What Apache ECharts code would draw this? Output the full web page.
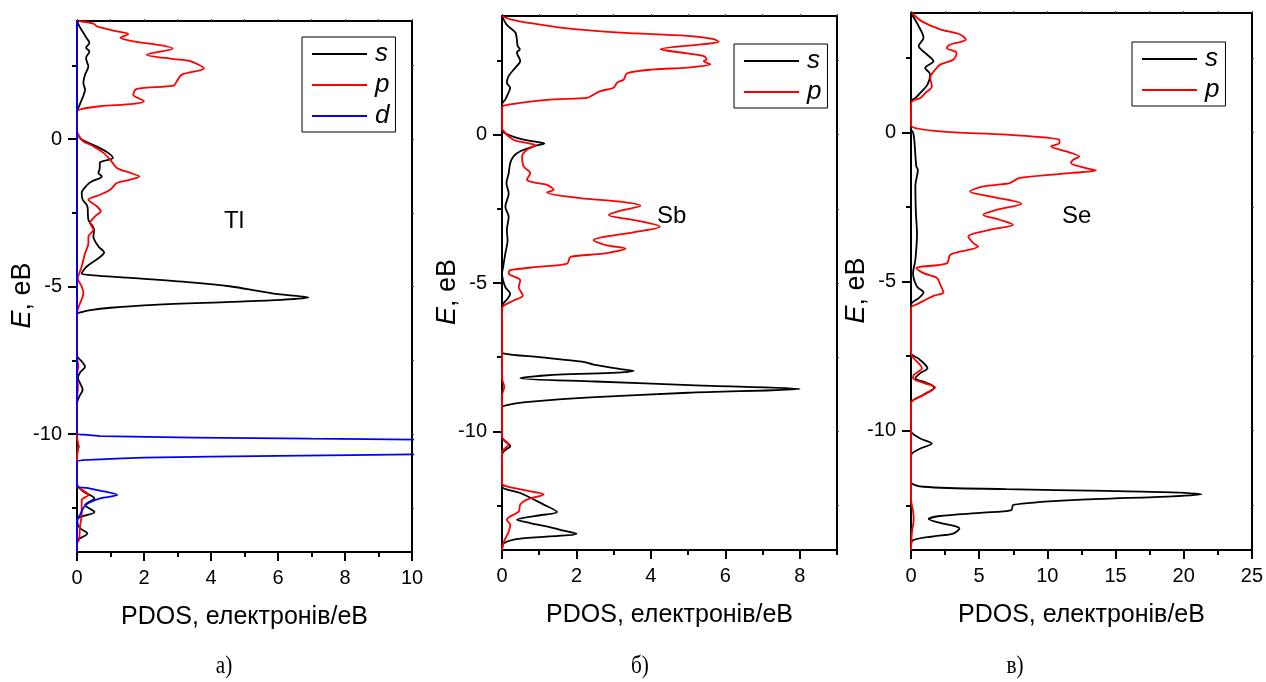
<!DOCTYPE html>
<html>
<head>
<meta charset="utf-8">
<script src="https://cdn.jsdelivr.net/npm/echarts@6/dist/echarts.min.js"></script>
<style>
  html, body { margin: 0; padding: 0; background: #fff; }
  #chart { width: 1266px; height: 682px; }
</style>
</head>
<body>
<div id="chart"></div>
<script>
// Partial densities of states, pairs of [E (eV), PDOS (electrons/eV)]

// Tl
const tlS = [
  [4.0,0],[3.8,0.08],[3.6,0.19],[3.4,0.3],[3.26,0.37],[3.09,0.27],[2.97,0.37],[2.75,0.27],[2.6,0.3],[2.47,0.34],
  [2.18,0.24],[1.9,0.19],[1.67,0.24],[1.5,0.2],[1.33,0.14],[1.05,0.04],[0.94,0],
  [0.3,0],[0.2,0.01],[0,0.12],[-0.25,0.58],[-0.47,0.93],[-0.64,1.07],[-0.72,0.88],[-0.81,0.68],[-0.98,0.68],
  [-1.15,0.64],[-1.27,0.74],[-1.44,0.44],[-1.55,0.31],[-1.83,0.14],[-2.06,0.17],[-2.28,0.31],[-2.74,0.34],
  [-3.08,0.51],[-3.31,0.49],[-3.64,0.64],[-3.85,0.81],[-4.04,0.64],[-4.32,0.29],[-4.49,0.17],[-4.57,0.14],
  [-4.62,0.5],[-4.7,1.5],[-4.86,3.4],[-5.0,4.6],[-5.15,5.4],[-5.26,6.0],[-5.37,6.91],[-5.45,6.1],[-5.52,4.6],
  [-5.62,2.3],[-5.72,1.0],[-5.8,0.4],[-5.87,0.14],[-5.94,0],
  [-7.3,0],[-7.4,0.02],[-7.55,0.15],[-7.72,0.24],[-7.9,0.1],[-8.1,0.03],[-8.3,0.1],[-8.5,0.17],[-8.7,0.08],[-8.96,0],
  [-10.2,0],[-10.3,0.02],[-10.43,0.05],[-10.55,0.02],[-10.7,0],
  [-11.6,0],[-11.73,0.01],[-11.95,0.19],[-12.18,0.52],[-12.41,0.24],[-12.64,0.52],[-12.85,0.04],[-13.0,0.01],
  [-13.2,0.1],[-13.37,0.31],[-13.5,0.15],[-13.6,0.01],[-14,0]
];
const tlP = [
  [4.0,0.05],[3.91,0.49],[3.82,0.59],[3.65,1.19],[3.56,1.53],[3.43,1.3],[3.31,1.68],[3.2,2.38],[3.07,2.86],
  [2.86,2.08],[2.71,2.88],[2.64,3.38],[2.39,3.79],[2.18,3.13],[1.96,2.98],[1.81,2.88],[1.7,1.78],[1.5,1.68],
  [1.28,2.0],[1.19,1.68],[1.11,0.69],[1.0,0.09],[0.9,0],
  [0.25,0],[0.2,0.01],[0,0.12],[-0.08,0.19],[-0.25,0.49],[-0.47,0.79],[-0.7,0.99],[-0.98,1.19],[-1.15,1.59],
  [-1.27,1.86],[-1.38,1.59],[-1.49,1.19],[-1.72,0.99],[-1.89,0.69],[-2.06,0.34],[-2.28,0.59],[-2.45,0.71],
  [-2.62,0.54],[-2.85,0.39],[-3.08,0.49],[-3.31,0.34],[-3.53,0.34],[-3.87,0.24],[-4.32,0.14],[-4.55,0.07],
  [-4.72,0.02],[-5.0,0.14],[-5.23,0.19],[-5.57,0.09],[-5.9,0],
  [-7.4,0],[-7.7,0.04],[-8.0,0],[-8.4,0.03],[-8.8,0],
  [-10.1,0],[-10.4,0.04],[-10.8,0],
  [-11.7,0],[-11.79,0.02],[-12.07,0.34],[-12.24,0.14],[-12.7,0.14],[-13.15,0.09],[-13.6,0.06],[-13.7,0],[-14,0]
];
const tlD = [
  [4.0,0],[-9.98,0],[-10.03,0.3],[-10.07,0.7],[-10.12,3.5],[-10.16,7],[-10.19,10.3],[-10.25,16],[-10.45,30],
  [-10.65,16],[-10.69,10.3],[-10.74,6],[-10.8,2],[-10.86,0.7],[-10.94,0],
  [-11.75,0],[-11.83,0.3],[-11.92,0.69],[-12.07,1.2],[-12.18,0.69],[-12.34,0.34],[-12.51,0.19],[-12.74,0.09],
  [-12.92,0],[-14,0]
];

// Sb
const sbS = [
  [4.0,0],[3.7,0.13],[3.44,0.36],[3.21,0.4],[2.99,0.42],[2.88,0.48],[2.77,0.4],[2.48,0.49],[2.26,0.36],
  [1.98,0.18],[1.75,0.13],[1.58,0.22],[1.35,0.15],[1.19,0.09],[1.02,0],
  [0.2,0],[0.11,0.01],[-0.11,0.4],[-0.23,0.85],[-0.3,1.14],[-0.39,0.85],[-0.56,0.49],[-0.73,0.31],[-0.96,0.22],
  [-1.3,0.18],[-1.64,0.12],[-1.98,0.18],[-2.43,0.09],[-2.77,0.18],[-3.22,0.13],[-3.56,0.15],[-4.0,0.09],
  [-4.46,0.03],[-4.68,0],[-5.14,0.09],[-5.36,0.22],[-5.53,0.15],[-5.7,0.03],[-5.81,0],
  [-7.25,0],[-7.37,0.03],[-7.5,1.0],[-7.65,2.15],[-7.75,2.46],[-7.9,3.18],[-7.96,3.54],[-8.02,3.1],[-8.09,1.5],
  [-8.21,0.49],[-8.32,2.5],[-8.45,5.2],[-8.57,8.0],[-8.7,5.0],[-8.85,2.5],[-9.0,0.8],[-9.1,0.2],[-9.2,0],
  [-10.2,0],[-10.35,0.1],[-10.5,0.22],[-10.67,0.05],[-10.8,0],
  [-11.75,0],[-11.91,0.03],[-12.08,0.49],[-12.47,1.12],[-12.72,1.48],[-12.85,0.9],[-12.98,0.4],[-13.09,0.76],
  [-13.26,1.39],[-13.35,1.66],[-13.45,2.0],[-13.62,0.49],[-13.77,0.05],[-14,0]
];
const sbP = [
  [4.0,0],[3.89,0.22],[3.76,0.76],[3.61,1.57],[3.44,3.18],[3.33,4.97],[3.22,5.69],[3.13,5.82],[3.05,5.42],
  [2.88,4.26],[2.74,4.97],[2.65,5.42],[2.54,5.5],[2.48,5.42],[2.37,5.6],[2.26,4.97],[2.2,4.08],[2.07,3.36],
  [1.86,3.27],[1.75,3.09],[1.58,3.0],[1.47,2.64],[1.35,2.46],[1.24,2.28],[1.19,1.39],[1.07,0.49],[0.98,0.05],[0.9,0],
  [0.25,0],[0.17,0.01],[-0.17,0.31],[-0.28,0.67],[-0.36,0.9],[-0.51,0.67],[-0.73,0.54],[-1.07,0.58],[-1.3,0.76],
  [-1.52,0.67],[-1.61,0.85],[-1.69,1.21],[-1.86,1.39],[-1.95,1.21],[-2.14,2.1],[-2.26,3.18],[-2.4,3.72],
  [-2.56,3.18],[-2.71,2.87],[-2.9,3.63],[-3.1,4.24],[-3.27,3.63],[-3.56,2.46],[-3.73,2.82],[-3.84,3.32],
  [-4.01,2.73],[-4.12,1.84],[-4.35,1.75],[-4.46,0.94],[-4.57,0.22],[-4.68,0.18],[-4.91,0.49],[-5.14,0.45],
  [-5.42,0.56],[-5.59,0.31],[-5.76,0.05],[-5.87,0],
  [-8.2,0],[-8.5,0.06],[-8.8,0],
  [-10.2,0],[-10.44,0.18],[-10.7,0],
  [-11.7,0],[-11.79,0.01],[-11.96,0.49],[-12.13,1.12],[-12.3,0.67],[-12.47,0.49],[-12.7,0.45],[-12.98,0.13],
  [-13.15,0.22],[-13.38,0.18],[-13.72,0.05],[-14,0]
];

// Se
const seS = [
  [4.0,0],[3.56,0.56],[3.17,0.92],[2.89,0.56],[2.66,1.04],[2.38,1.65],[2.16,1.04],[1.94,1.41],[1.6,1.21],
  [1.38,0.8],[1.15,0.32],[1.04,0],
  [0.1,0],[0,0.15],[-0.25,0.24],[-1.14,0.39],[-1.25,0.5],[-1.81,0.32],[-2.7,0.36],[-3.4,0.44],[-4.27,0.32],
  [-4.72,0.15],[-5.17,0.44],[-5.37,0.92],[-5.56,0.56],[-5.78,0],
  [-7.4,0],[-7.6,0.6],[-7.91,1.21],[-8.07,0.68],[-8.24,0.32],[-8.4,1.17],[-8.55,1.7],[-8.8,0.92],[-9.08,0],
  [-10.0,0],[-10.26,0.68],[-10.43,1.53],[-10.6,0.68],[-10.76,0.07],[-10.9,0],
  [-11.71,0],[-11.88,0.92],[-11.96,7.0],[-12.02,14.3],[-12.07,19.1],[-12.13,21.3],[-12.2,19.1],[-12.33,11.8],
  [-12.49,7.5],[-12.66,7.36],[-12.75,5.3],[-12.86,2.1],[-12.96,1.29],[-13.09,2.14],[-13.2,3.23],[-13.28,3.55],
  [-13.45,3.1],[-13.54,1.65],[-13.7,0.07],[-14,0]
];
const seP = [
  [4.0,0.07],[3.72,0.8],[3.45,2.14],[3.28,3.6],[3.11,4.03],[2.94,2.87],[2.83,2.62],[2.66,3.35],[2.44,3.11],
  [2.27,2.14],[2.1,1.77],[1.83,1.41],[1.54,1.53],[1.32,1.05],[1.15,0.68],[1.04,0.07],[0.87,0],
  [0.3,0],[0.2,0.02],[0.03,2.14],[-0.08,7.0],[-0.25,10.88],[-0.36,10.9],[-0.47,10.27],[-0.67,11.6],[-0.81,12.34],
  [-0.92,11.9],[-1.03,11.73],[-1.2,12.83],[-1.28,13.56],[-1.36,11.86],[-1.53,7.97],[-1.7,7.24],[-1.81,5.3],
  [-1.98,4.33],[-2.15,5.78],[-2.39,8.09],[-2.6,6.27],[-2.76,5.3],[-2.93,6.51],[-3.1,7.48],[-3.27,5.78],
  [-3.49,4.2],[-3.71,4.57],[-3.83,4.93],[-4.0,3.6],[-4.11,2.87],[-4.39,2.62],[-4.55,0.39],[-4.72,0.92],
  [-4.88,1.9],[-5.1,2.14],[-5.37,2.38],[-5.48,1.65],[-5.76,0.44],[-5.88,0],
  [-7.4,0],[-7.57,0.2],[-7.91,0.8],[-8.13,0.2],[-8.24,0.15],[-8.4,0.92],[-8.55,1.77],[-8.8,0.92],[-9.08,0],
  [-12.3,0],[-12.7,0.15],[-12.98,0.2],[-13.4,0.07],[-14,0]
];

// Axis ticks and labels
const eMajor = [-10, -5, 0];
const eMinor = [-12.5, -7.5, -2.5, 2.5];
const xMajorA = [0, 2, 4, 6, 8, 10];
const xMinorA = [1, 3, 5, 7, 9];
const xMajorB = [0, 2, 4, 6, 8];
const xMinorB = [1, 3, 5, 7, 9];
const xMajorC = [0, 5, 10, 15, 20, 25];
const xMinorC = [2.5, 7.5, 12.5, 17.5, 22.5];
const xMax = [10, 9, 25];

const elements = ['Tl', 'Sb', 'Se'];
const captions = ['а)', 'б)', 'в)'];
const orbitalNames = ['s', 'p', 'd'];

const panels = [
  { curves: [tlS, tlP, tlD], major: xMajorA, minor: xMinorA },
  { curves: [sbS, sbP], major: xMajorB, minor: xMinorB },
  { curves: [seS, seP], major: xMajorC, minor: xMinorC }
];

const COLORS = ['#000000', '#ff0000', '#0000ff'];
const FONT = 'Liberation Sans, Arial, sans-serif';
const SERIF = 'Liberation Serif, Times New Roman, serif';

const grids = [
  { left: 77, top: 21, width: 335, height: 531 },
  { left: 502, top: 16, width: 335, height: 534 },
  { left: 911, top: 13, width: 342, height: 537 }
];
const legendPos = [{ left: 302, top: 37 }, { left: 734, top: 44 }, { left: 1132, top: 42 }];
const elementPos = [[224, 222], [657, 217], [1062, 217]];
const captionPos = [224, 640, 1015];

const xAxes = [], yAxes = [], series = [], legends = [], graphics = [];
const unitTicks = (mx, step) => { const a = []; for (let v = 0; v <= mx + 1e-9; v += step) a.push(v); return a; };

panels.forEach((pn, i) => {
  const base = xAxes.length;
  // main bottom axis
  xAxes.push({
    gridIndex: i, type: 'value', position: 'bottom', min: 0, max: xMax[i],
    axisLine: { onZero: false, lineStyle: { color: '#000', width: 2 } },
    axisTick: { customValues: pn.major, length: 9, lineStyle: { color: '#000', width: 2 } },
    axisLabel: { customValues: pn.major, margin: 16, fontSize: 20, color: '#000', fontFamily: FONT },
    splitLine: { show: false },
    name: 'PDOS, електронів/еВ', nameLocation: 'middle', nameGap: 53, nameMoveOverlap: false,
    nameTextStyle: { fontSize: 25, color: '#000', fontFamily: FONT }
  });
  // minor bottom ticks
  xAxes.push({
    gridIndex: i, type: 'value', position: 'bottom', min: 0, max: xMax[i],
    axisLine: { show: false, onZero: false },
    axisTick: { customValues: pn.minor, length: 5, lineStyle: { color: '#000', width: 2 } },
    axisLabel: { show: false }, splitLine: { show: false }
  });
  // top frame
  xAxes.push({
    gridIndex: i, type: 'value', position: 'top', min: 0, max: xMax[i],
    axisLine: { onZero: false, lineStyle: { color: '#000', width: 2 } },
    axisTick: { customValues: unitTicks(xMax[i], i === 2 ? 2.5 : 1), length: 2, lineStyle: { color: '#444', width: 1 } },
    axisLabel: { show: false }, splitLine: { show: false }
  });
  const ybase = yAxes.length;
  yAxes.push({
    gridIndex: i, type: 'value', position: 'left', min: -14, max: 4,
    axisLine: { onZero: false, lineStyle: { color: '#000', width: 2 } },
    axisTick: { customValues: eMajor, length: 9, lineStyle: { color: '#000', width: 2 } },
    axisLabel: { customValues: eMajor, margin: 15, fontSize: 20, color: '#000', fontFamily: FONT },
    splitLine: { show: false },
    name: '{i|E}, еВ', nameLocation: 'middle', nameGap: 41, nameRotate: 90, nameMoveOverlap: false,
    nameTextStyle: {
      fontSize: 27, color: '#000', fontFamily: FONT, padding: [0, 18, 0, 0],
      rich: { i: { fontSize: 27, fontStyle: 'italic', color: '#000', fontFamily: FONT } }
    }
  });
  yAxes.push({
    gridIndex: i, type: 'value', position: 'left', min: -14, max: 4,
    axisLine: { show: false, onZero: false },
    axisTick: { customValues: eMinor, length: 5, lineStyle: { color: '#000', width: 2 } },
    axisLabel: { show: false }, splitLine: { show: false }
  });
  yAxes.push({
    gridIndex: i, type: 'value', position: 'right', min: -14, max: 4,
    axisLine: { onZero: false, lineStyle: { color: '#000', width: 2 } },
    axisTick: { customValues: [-12.5, -10, -7.5, -5, -2.5, 0, 2.5], length: 2, lineStyle: { color: '#444', width: 1 } },
    axisLabel: { show: false }, splitLine: { show: false }
  });

  pn.curves.forEach((c, k) => {
    series.push({
      type: 'line', name: orbitalNames[k], xAxisIndex: base, yAxisIndex: ybase,
      data: c.map(d => [d[1], d[0]]),
      showSymbol: false, symbol: 'none', smooth: 0.3, clip: true,
      lineStyle: { color: COLORS[k], width: 1.8 }, itemStyle: { color: COLORS[k] },
      silent: true, animation: false
    });
  });

  legends.push({
    data: orbitalNames.slice(0, pn.curves.length),
    left: legendPos[i].left, top: legendPos[i].top, orient: 'vertical',
    icon: 'rect', itemWidth: 55, itemHeight: 2, itemGap: 5,
    padding: [4, 6, 3, 10], borderColor: '#000', borderWidth: 1, backgroundColor: '#fff',
    selectedMode: false,
    textStyle: { fontSize: 26, fontStyle: 'italic', color: '#000', fontFamily: FONT, padding: [0, 0, 0, 3] }
  });

  graphics.push({
    type: 'text', left: elementPos[i][0], top: elementPos[i][1] - 13,
    style: { text: elements[i], fontSize: 24, fontFamily: FONT, fill: '#000' }
  });
  graphics.push({
    type: 'text', x: captionPos[i], y: 666, scaleX: 0.85,
    style: { text: captions[i], fontSize: 25, fontFamily: SERIF, fill: '#000', align: 'center', verticalAlign: 'middle' }
  });
});

const chart = echarts.init(document.getElementById('chart'), null, { renderer: 'canvas' });
chart.setOption({
  animation: false,
  backgroundColor: '#fff',
  grid: grids.map(g => Object.assign({ containLabel: false }, g)),
  xAxis: xAxes,
  yAxis: yAxes,
  legend: legends,
  series: series,
  graphic: graphics
});
</script>
</body>
</html>
